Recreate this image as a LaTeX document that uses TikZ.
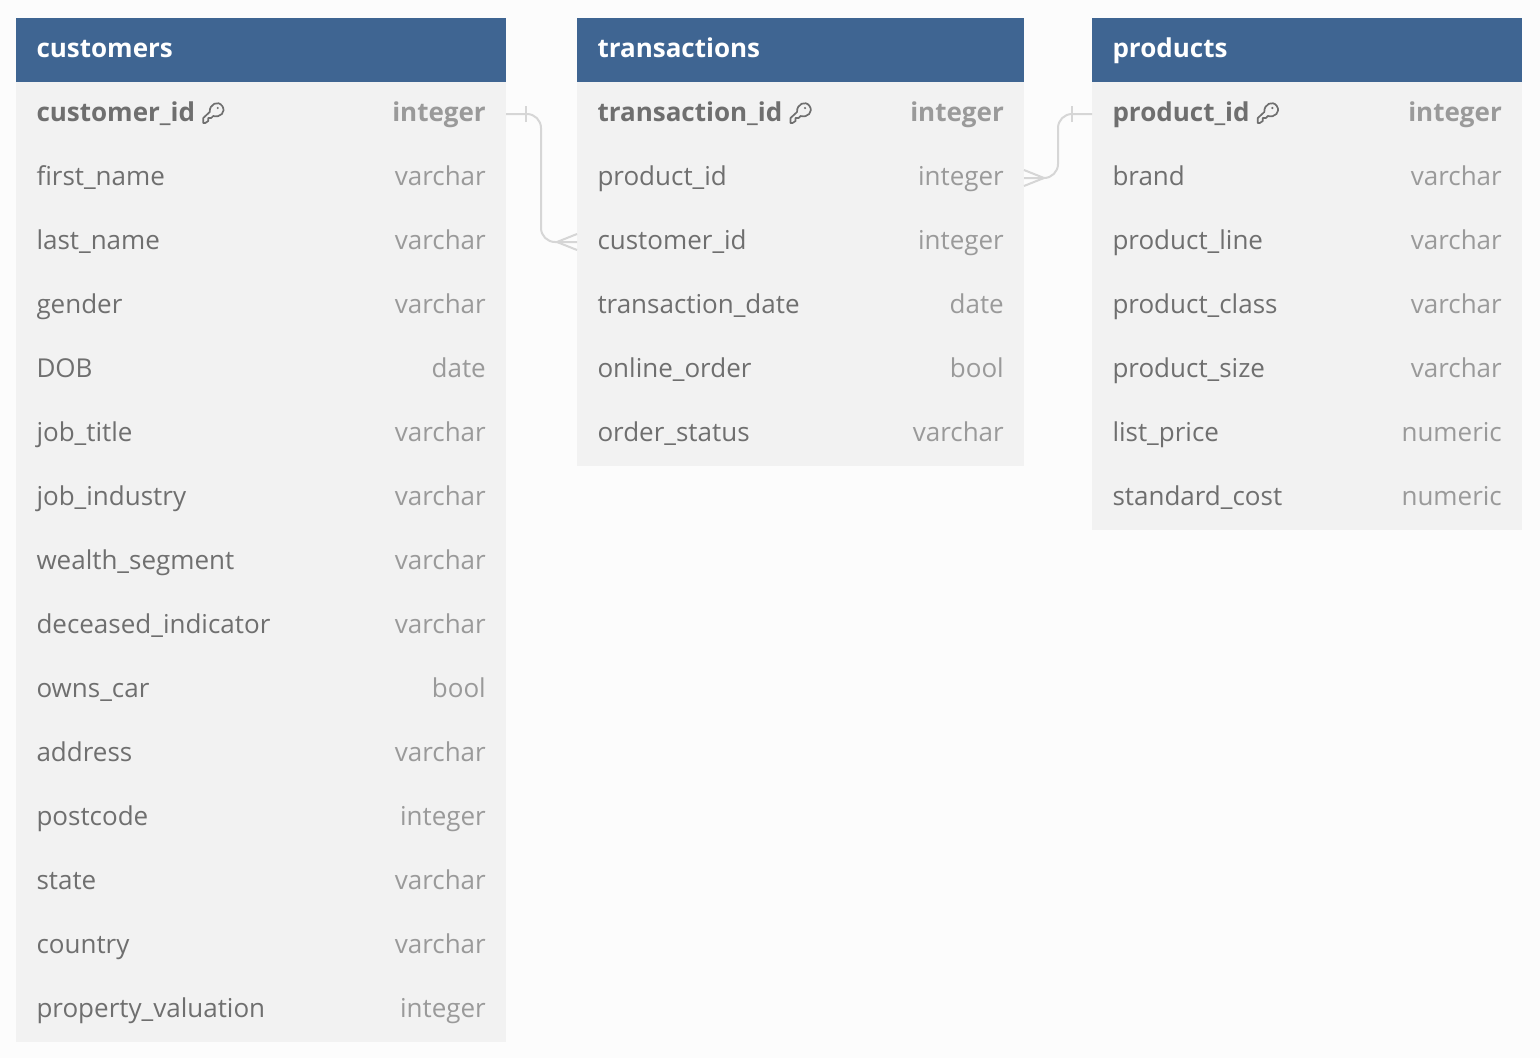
\documentclass[tikz,border=0pt]{standalone}
\usepackage{fontspec}
\setmainfont{Open Sans}
\definecolor{pagebg}{HTML}{FCFCFC}
\definecolor{headbg}{HTML}{3F6592}
\definecolor{rowbg}{HTML}{F2F2F2}
\definecolor{nametxt}{HTML}{6F6F6F}
\definecolor{typetxt}{HTML}{9A9A9A}
\definecolor{relline}{HTML}{D6D6D6}
\tikzset{
  x=1pt,y=-1pt,
  cellbox/.style={rectangle,inner sep=0pt,outer sep=0pt,minimum height=64pt,anchor=north west},
  headcell/.style={cellbox,fill=headbg},
  bodycell/.style={cellbox,fill=rowbg},
  headtxt/.style={anchor=base west,inner sep=0pt,text=white,font=\fontsize{26}{30}\selectfont\bfseries},
  nametext/.style={anchor=base west,inner sep=0pt,text=nametxt,font=\fontsize{26}{30}\selectfont},
  typetext/.style={anchor=base east,inner sep=0pt,text=typetxt,font=\fontsize{26}{30}\selectfont},
  pkname/.style={nametext,font=\fontsize{26}{30}\selectfont\bfseries},
  pktype/.style={typetext,font=\fontsize{26}{30}\selectfont\bfseries},
  relpath/.style={draw=relline,line width=2pt,rounded corners=14pt},
  relmark/.style={draw=relline,line width=2pt},
  keypic/.style={draw=nametxt,line width=1.7pt,line join=round,line cap=round},
}
\newcommand{\tblhead}[5]{% id, x, y, width, title
  \node[headcell,minimum width=#4pt] (#1) at (#2,#3) {};
  \node[headtxt] (#1txt) at ([xshift=20.3pt,yshift=-7pt]#1.west) {#5};
}
\newcommand{\tblrow}[6]{% id, x, y, width, label, type
  \node[bodycell,minimum width=#4pt] (#1) at (#2,#3) {};
  \node[nametext] (#1n) at ([xshift=20.3pt,yshift=-7pt]#1.west) {#5};
  \node[typetext] (#1t) at ([xshift=-20pt,yshift=-7pt]#1.east) {#6};
}
\newcommand{\tblpk}[6]{%
  \node[bodycell,minimum width=#4pt] (#1) at (#2,#3) {};
  \node[pkname] (#1n) at ([xshift=20.3pt,yshift=-7pt]#1.west) {#5};
  \node[pktype] (#1t) at ([xshift=-20pt,yshift=-7pt]#1.east) {#6};
  \begin{scope}[shift={(#1n.base east)},xshift=7pt]
    \draw[keypic] (1,2) -- (1,-3) -- (7.5,-9) .. controls (7,-17) and (16,-21) .. (20,-15)
      .. controls (24,-9) and (18,-3) .. (11,-5) -- (9,-3) -- (6,-3) -- (6,0) -- (3,2) -- cycle;
    \fill[nametxt] (15.5,-13) circle (1.2pt);
  \end{scope}
}
\begin{document}
\begin{tikzpicture}
\path[use as bounding box,fill=pagebg] (0,0) rectangle (1540,1058);

% customers
\tblhead{c}{16}{18}{490}{customers}
\tblpk{c0}{16}{82}{490}{customer\_id}{integer}
\tblrow{c1}{16}{146}{490}{first\_name}{varchar}
\tblrow{c2}{16}{210}{490}{last\_name}{varchar}
\tblrow{c3}{16}{274}{490}{gender}{varchar}
\tblrow{c4}{16}{338}{490}{DOB}{date}
\tblrow{c5}{16}{402}{490}{job\_title}{varchar}
\tblrow{c6}{16}{466}{490}{job\_industry}{varchar}
\tblrow{c7}{16}{530}{490}{wealth\_segment}{varchar}
\tblrow{c8}{16}{594}{490}{deceased\_indicator}{varchar}
\tblrow{c9}{16}{658}{490}{owns\_car}{bool}
\tblrow{c10}{16}{722}{490}{address}{varchar}
\tblrow{c11}{16}{786}{490}{postcode}{integer}
\tblrow{c12}{16}{850}{490}{state}{varchar}
\tblrow{c13}{16}{914}{490}{country}{varchar}
\tblrow{c14}{16}{978}{490}{property\_valuation}{integer}

% transactions
\tblhead{t}{577}{18}{447}{transactions}
\tblpk{t0}{577}{82}{447}{transaction\_id}{integer}
\tblrow{t1}{577}{146}{447}{product\_id}{integer}
\tblrow{t2}{577}{210}{447}{customer\_id}{integer}
\tblrow{t3}{577}{274}{447}{transaction\_date}{date}
\tblrow{t4}{577}{338}{447}{online\_order}{bool}
\tblrow{t5}{577}{402}{447}{order\_status}{varchar}

% products
\tblhead{p}{1092}{18}{430}{products}
\tblpk{p0}{1092}{82}{430}{product\_id}{integer}
\tblrow{p1}{1092}{146}{430}{brand}{varchar}
\tblrow{p2}{1092}{210}{430}{product\_line}{varchar}
\tblrow{p3}{1092}{274}{430}{product\_class}{varchar}
\tblrow{p4}{1092}{338}{430}{product\_size}{varchar}
\tblrow{p5}{1092}{402}{430}{list\_price}{numeric}
\tblrow{p6}{1092}{466}{430}{standard\_cost}{numeric}

% customers.customer_id -< transactions.customer_id
\draw[relpath] (c0.east) -- ++(35,0) -- ++(0,128) -- (t2.west);
\draw[relmark] ([xshift=20pt,yshift=-8pt]c0.east) -- ([xshift=20pt,yshift=8pt]c0.east);
\draw[relmark] ([yshift=8pt]t2.west) -- ([xshift=-20pt]t2.west) -- ([yshift=-8pt]t2.west);

% transactions.product_id >- products.product_id
\draw[relpath] (t1.east) -- ++(34,0) -- ++(0,-64) -- (p0.west);
\draw[relmark] ([xshift=-20pt,yshift=-8pt]p0.west) -- ([xshift=-20pt,yshift=8pt]p0.west);
\draw[relmark] ([yshift=8pt]t1.east) -- ([xshift=20pt]t1.east) -- ([yshift=-8pt]t1.east);
\end{tikzpicture}
\end{document}
